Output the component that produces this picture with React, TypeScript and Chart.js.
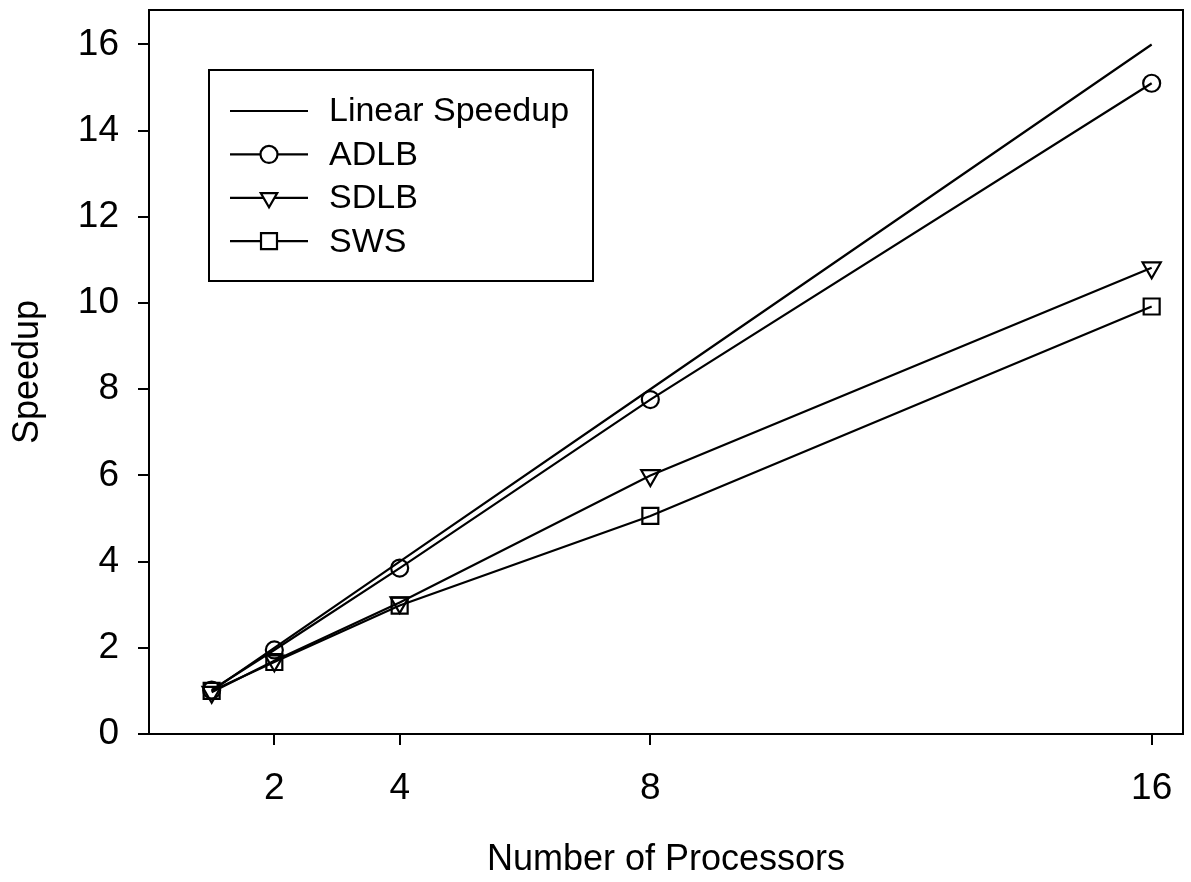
import React, { useEffect, useRef } from 'react';
import { Chart, registerables } from 'chart.js';

Chart.register(...registerables);

const processors = [1, 2, 4, 8, 16];
const linearSpeedup = [1, 2, 4, 8, 16];
const adlb = [1.02, 1.95, 3.85, 7.76, 15.1];
const sdlb = [0.97, 1.7, 3.05, 6.0, 10.82];
const sws = [1.0, 1.67, 2.98, 5.06, 9.92];
const seriesLabels = ['Linear Speedup', 'ADLB', 'SDLB', 'SWS'];
const xTickValues = [2, 4, 8, 16];
const yTickValues = [0, 2, 4, 6, 8, 10, 12, 14, 16];
const xTitle = 'Number of Processors';
const yTitle = 'Speedup';

const FONT = "Arial, 'Liberation Sans', Helvetica, sans-serif";

function toPoints(values: number[]) {
  return processors.map((x, i) => ({ x, y: values[i] }));
}

function drawMarker(ctx: CanvasRenderingContext2D, style: string, x: number, y: number, r: number) {
  ctx.beginPath();
  if (style === 'circle') {
    ctx.arc(x, y, r, 0, Math.PI * 2);
  } else if (style === 'triangle') {
    const dx = Math.sin(Math.PI / 3) * r;
    ctx.moveTo(x, y + r);
    ctx.lineTo(x - dx, y - r / 2);
    ctx.lineTo(x + dx, y - r / 2);
    ctx.closePath();
  } else if (style === 'rect') {
    const s = Math.SQRT1_2 * r;
    ctx.rect(x - s, y - s, 2 * s, 2 * s);
  } else {
    return;
  }
  ctx.fillStyle = '#fff';
  ctx.fill();
  ctx.stroke();
}

const frameAndLegend = {
  id: 'frameAndLegend',
  afterDraw(chart: any) {
    const ctx: CanvasRenderingContext2D = chart.ctx;
    const { left, top, right, bottom } = chart.chartArea;
    ctx.save();
    ctx.strokeStyle = '#000';
    ctx.lineWidth = 2;
    ctx.beginPath();
    ctx.moveTo(left, top);
    ctx.lineTo(right, top);
    ctx.lineTo(right, bottom);
    ctx.stroke();

    const bx = left + 60;
    const by = top + 60;
    const bw = 384;
    const bh = 211;
    ctx.strokeRect(bx, by, bw, bh);
    ctx.font = `34px ${FONT}`;
    ctx.textBaseline = 'middle';
    ctx.textAlign = 'left';
    chart.data.datasets.forEach((ds: any, i: number) => {
      const y = by + 41 + i * 43.4;
      ctx.lineWidth = 2.2;
      ctx.strokeStyle = '#000';
      ctx.beginPath();
      ctx.moveTo(bx + 21, y);
      ctx.lineTo(bx + 99, y);
      ctx.stroke();
      if (ds.pointRadius > 0) {
        drawMarker(ctx, ds.pointStyle, bx + 60, y, ds.legendRadius);
      }
      ctx.fillStyle = '#000';
      ctx.fillText(ds.label, bx + 120, y + 1);
    });
    ctx.restore();
  },
};

export default function App() {
  const canvasRef = useRef<HTMLCanvasElement | null>(null);

  useEffect(() => {
    if (!canvasRef.current) return;
    const common = {
      borderColor: '#000',
      borderWidth: 2.2,
      pointBorderColor: '#000',
      pointBackgroundColor: 'rgba(0,0,0,0)',
      pointBorderWidth: 2.2,
      tension: 0,
      fill: false,
      clip: false,
    };
    const chart = new Chart(canvasRef.current, {
      type: 'line',
      data: {
        datasets: [
          { ...common, label: seriesLabels[0], data: toPoints(linearSpeedup), pointRadius: 0, pointStyle: 'circle', legendRadius: 0 } as any,
          { ...common, label: seriesLabels[1], data: toPoints(adlb), pointRadius: 8.5, pointStyle: 'circle', legendRadius: 8.5 } as any,
          { ...common, label: seriesLabels[2], data: toPoints(sdlb), pointRadius: 10.5, pointStyle: 'triangle', pointRotation: 180, legendRadius: 9.5 } as any,
          { ...common, label: seriesLabels[3], data: toPoints(sws), pointRadius: 11.3, pointStyle: 'rect', legendRadius: 11.3 } as any,
        ],
      },
      options: {
        responsive: false,
        animation: false,
        layout: { autoPadding: false, padding: { left: 0, top: 10, right: 8, bottom: 0 } },
        plugins: {
          legend: { display: false },
          tooltip: { enabled: false },
        },
        elements: { line: { borderJoinStyle: 'miter' } },
        scales: {
          x: {
            type: 'linear',
            min: 0,
            max: 16.5,
            border: { display: true, color: '#000', width: 2 },
            grid: { drawOnChartArea: false, drawTicks: true, tickLength: 11, color: '#000', lineWidth: 2 },
            ticks: {
              color: '#000',
              font: { size: 37, family: FONT },
              padding: 22,
              maxRotation: 0,
              autoSkip: false,
              callback: (v: any) => String(v),
            },
            afterBuildTicks: (s: any) => {
              s.ticks = xTickValues.map((v) => ({ value: v }));
            },
            afterFit: (s: any) => {
              s.height = 148;
              s.paddingLeft = 0;
              s.paddingRight = 0;
            },
            title: {
              display: true,
              text: xTitle,
              color: '#000',
              font: { size: 36, family: FONT },
              padding: { top: 0, bottom: 0 },
            },
          },
          y: {
            type: 'linear',
            min: 0,
            max: 16.8,
            border: { display: true, color: '#000', width: 2 },
            grid: { drawOnChartArea: false, drawTicks: true, tickLength: 11, color: '#000', lineWidth: 2 },
            ticks: {
              color: '#000',
              font: { size: 37, family: FONT },
              padding: 19,
              autoSkip: false,
              callback: (v: any) => String(v),
            },
            afterBuildTicks: (s: any) => {
              s.ticks = yTickValues.map((v) => ({ value: v }));
            },
            afterFit: (s: any) => {
              s.width = 149;
              s.paddingTop = 0;
              s.paddingBottom = 0;
            },
            title: {
              display: true,
              text: yTitle,
              color: '#000',
              font: { size: 36, family: FONT },
              padding: { top: 6, bottom: 0 },
            },
          },
        },
      } as any,
      plugins: [frameAndLegend],
    });
    return () => chart.destroy();
  }, []);

  return (
    <div style={{ position: 'absolute', left: 0, top: 0, width: 1191, height: 882, background: '#fff' }}>
      <canvas ref={canvasRef} width={1191} height={882} style={{ display: 'block' }} />
    </div>
  );
}
